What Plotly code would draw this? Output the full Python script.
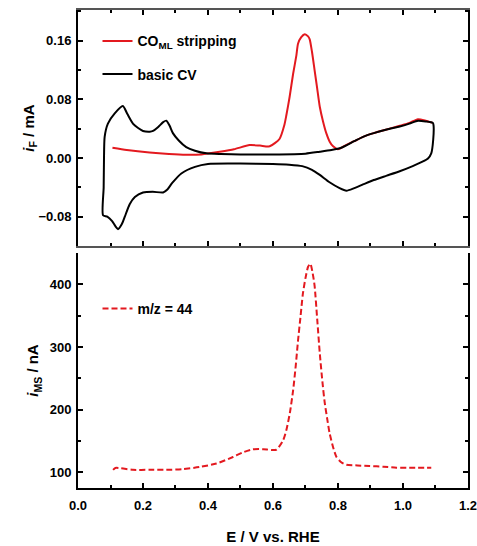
import plotly.graph_objects as go
from plotly.subplots import make_subplots

# ---- basic CV (closed loop: anodic then cathodic) ----
cv_E = [0.077, 0.079, 0.080, 0.082, 0.092, 0.113, 0.138, 0.152, 0.169, 0.185, 0.200, 0.221, 0.231,
        0.246, 0.262, 0.272, 0.282, 0.292, 0.310, 0.333, 0.360, 0.395, 0.440, 0.500, 0.600, 0.700,
        0.744, 0.780, 0.810, 0.850, 0.877, 0.910, 0.950, 0.990, 1.020, 1.046, 1.070, 1.092,
        1.094, 1.093, 1.087, 1.077, 1.060, 1.030, 0.990, 0.950, 0.910, 0.877, 0.850, 0.826, 0.805,
        0.774, 0.744, 0.720, 0.690, 0.650, 0.600, 0.500, 0.400, 0.360, 0.318, 0.290, 0.275,
        0.262, 0.230, 0.200, 0.175, 0.159, 0.144, 0.135, 0.123, 0.115, 0.105, 0.090, 0.077]
cv_i = [-0.078, -0.040, 0.000, 0.029, 0.047, 0.061, 0.071, 0.060, 0.047, 0.041, 0.037, 0.036, 0.037,
        0.042, 0.049, 0.051, 0.044, 0.034, 0.024, 0.015, 0.010, 0.0064, 0.0055, 0.005, 0.005, 0.006,
        0.0086, 0.011, 0.014, 0.023, 0.029, 0.034, 0.039, 0.043, 0.047, 0.051, 0.050, 0.048,
        0.045, 0.025, 0.0064, -0.0005, -0.005, -0.011, -0.018, -0.024, -0.030, -0.036, -0.041, -0.0445, -0.041,
        -0.033, -0.023, -0.016, -0.011, -0.009, -0.008, -0.0075, -0.008, -0.012, -0.021, -0.034, -0.043,
        -0.047, -0.046, -0.047, -0.053, -0.063, -0.080, -0.090, -0.097, -0.093, -0.086, -0.080, -0.078]

# ---- CO monolayer stripping (anodic scan) ----
co_E = [0.106, 0.150, 0.220, 0.280, 0.333, 0.380, 0.436, 0.480, 0.528, 0.560, 0.590, 0.620, 0.635,
        0.641, 0.651, 0.662, 0.672, 0.677, 0.687, 0.698, 0.708, 0.713, 0.720, 0.728, 0.736, 0.744,
        0.754, 0.764, 0.775, 0.785, 0.800, 0.826, 0.850, 0.877, 0.910, 0.950, 0.990, 1.020, 1.046, 1.070, 1.092]
co_i = [0.014, 0.011, 0.0075, 0.0055, 0.0045, 0.0050, 0.0086, 0.012, 0.0177, 0.017, 0.016, 0.026, 0.045,
        0.058, 0.083, 0.115, 0.140, 0.156, 0.165, 0.169, 0.166, 0.162, 0.145, 0.120, 0.095, 0.070,
        0.050, 0.034, 0.022, 0.016, 0.012, 0.018, 0.023, 0.029, 0.034, 0.039, 0.044, 0.048, 0.053, 0.051, 0.048]

# ---- MS signal m/z = 44 ----
ms_E = [0.108, 0.115, 0.169, 0.220, 0.272, 0.320, 0.374, 0.426, 0.477, 0.508, 0.538, 0.570, 0.610,
        0.631, 0.641, 0.652, 0.662, 0.670, 0.677, 0.685, 0.692, 0.700, 0.708, 0.715, 0.722, 0.728,
        0.736, 0.744, 0.752, 0.759, 0.767, 0.774, 0.785, 0.795, 0.810, 0.826, 0.860, 0.897, 0.940,
        0.980, 1.030, 1.087]
ms_nA = [104, 107, 104, 104, 104, 105, 108.5, 114, 124.5, 132, 136.7, 137, 136,
         151, 167, 195, 231, 270, 310, 350, 385, 410, 428, 433, 418, 398,
         345, 290, 245, 212, 185, 163, 140, 125, 116, 112, 111, 110, 109,
         107.5, 107.5, 107.5]

RED = "#e3191f"
FONT = "Arial, Liberation Sans, sans-serif"

fig = make_subplots(rows=2, cols=1, shared_xaxes=False, vertical_spacing=0.0)

fig.add_trace(go.Scatter(x=co_E, y=co_i, mode="lines", name="CO<sub>ML</sub> stripping",
                         line=dict(color=RED, width=2, shape="spline", smoothing=0.6),
                         legend="legend", legendgroup="a"), row=1, col=1)
fig.add_trace(go.Scatter(x=cv_E, y=cv_i, mode="lines", name="basic CV",
                         line=dict(color="black", width=2, shape="spline", smoothing=0.6),
                         legend="legend", legendgroup="b"), row=1, col=1)
fig.add_trace(go.Scatter(x=ms_E, y=ms_nA, mode="lines", name="m/z = 44",
                         line=dict(color=RED, width=2, dash="6px,3px", shape="spline", smoothing=0.6),
                         legend="legend2"), row=2, col=1)

H = 488 - 10
top_dom = [(488 - 246) / H, 1.0]
bot_dom = [0.0, (488 - 253) / H]

tickfont = dict(family=FONT, size=13, color="black", weight="bold")
titlefont = dict(family=FONT, size=15, color="black", weight="bold")

common_x = dict(range=[0, 1.2001], dtick=0.2, tick0=0, tickformat=".1f", ticks="inside", ticklen=5,
                tickwidth=1.5, tickcolor="black", showgrid=False, zeroline=False, automargin=False,
                minor=dict(dtick=0.1, ticks="inside", ticklen=3, tickcolor="black", tickwidth=1.5),
                tickfont=tickfont, showline=True, linewidth=2, ticklabeloverflow="allow")

fig.update_layout(
    width=477, height=546,
    margin=dict(l=78, r=9, t=10, b=58, autoexpand=False),
    paper_bgcolor="white", plot_bgcolor="white",
    font=dict(family=FONT, color="black"),
    xaxis=dict(common_x, showticklabels=False, mirror="ticks", linecolor="#555", anchor="y"),
    xaxis2=dict(common_x, mirror=False, linecolor="black", anchor="y2", ticklabelstandoff=4,
                title=dict(text="E / V vs. RHE", font=titlefont, standoff=20)),
    yaxis=dict(domain=top_dom, range=[-0.12, 0.202], dtick=0.08, tick0=0, tickformat=".2f",
               ticks="inside", ticklen=5, tickwidth=1.5, tickcolor="black", automargin=False,
               minor=dict(dtick=0.04, ticks="inside", ticklen=3, tickcolor="black", tickwidth=1.5),
               showline=True, linewidth=2, linecolor="black", mirror="ticks",
               showgrid=False, zeroline=False, tickfont=tickfont, ticklabelstandoff=2,
               title=dict(text="<i>i</i><sub>F</sub> / mA", font=titlefont, standoff=0)),
    yaxis2=dict(domain=bot_dom, range=[75, 450], dtick=100, tick0=0, automargin=False,
                ticks="inside", ticklen=5, tickwidth=1.5, tickcolor="black",
                minor=dict(dtick=50, ticks="inside", ticklen=3, tickcolor="black", tickwidth=1.5),
                showline=True, linewidth=2, linecolor="black", mirror="ticks",
                showgrid=False, zeroline=False, tickfont=tickfont, ticklabelstandoff=2,
                title=dict(text="<i>i</i><sub>MS</sub> / nA", font=titlefont, standoff=7)),
    legend=dict(x=0.05, y=0.968, xanchor="left", yanchor="top", bgcolor="rgba(0,0,0,0)",
                font=dict(family=FONT, size=14, color="black", weight="bold"),
                tracegroupgap=12, traceorder="grouped", itemwidth=30),
    legend2=dict(x=0.05, y=0.408, xanchor="left", yanchor="top", bgcolor="rgba(0,0,0,0)",
                 font=dict(family=FONT, size=14, color="black", weight="bold"), itemwidth=30),
    showlegend=True,
)

fig.write_html("out.html")
